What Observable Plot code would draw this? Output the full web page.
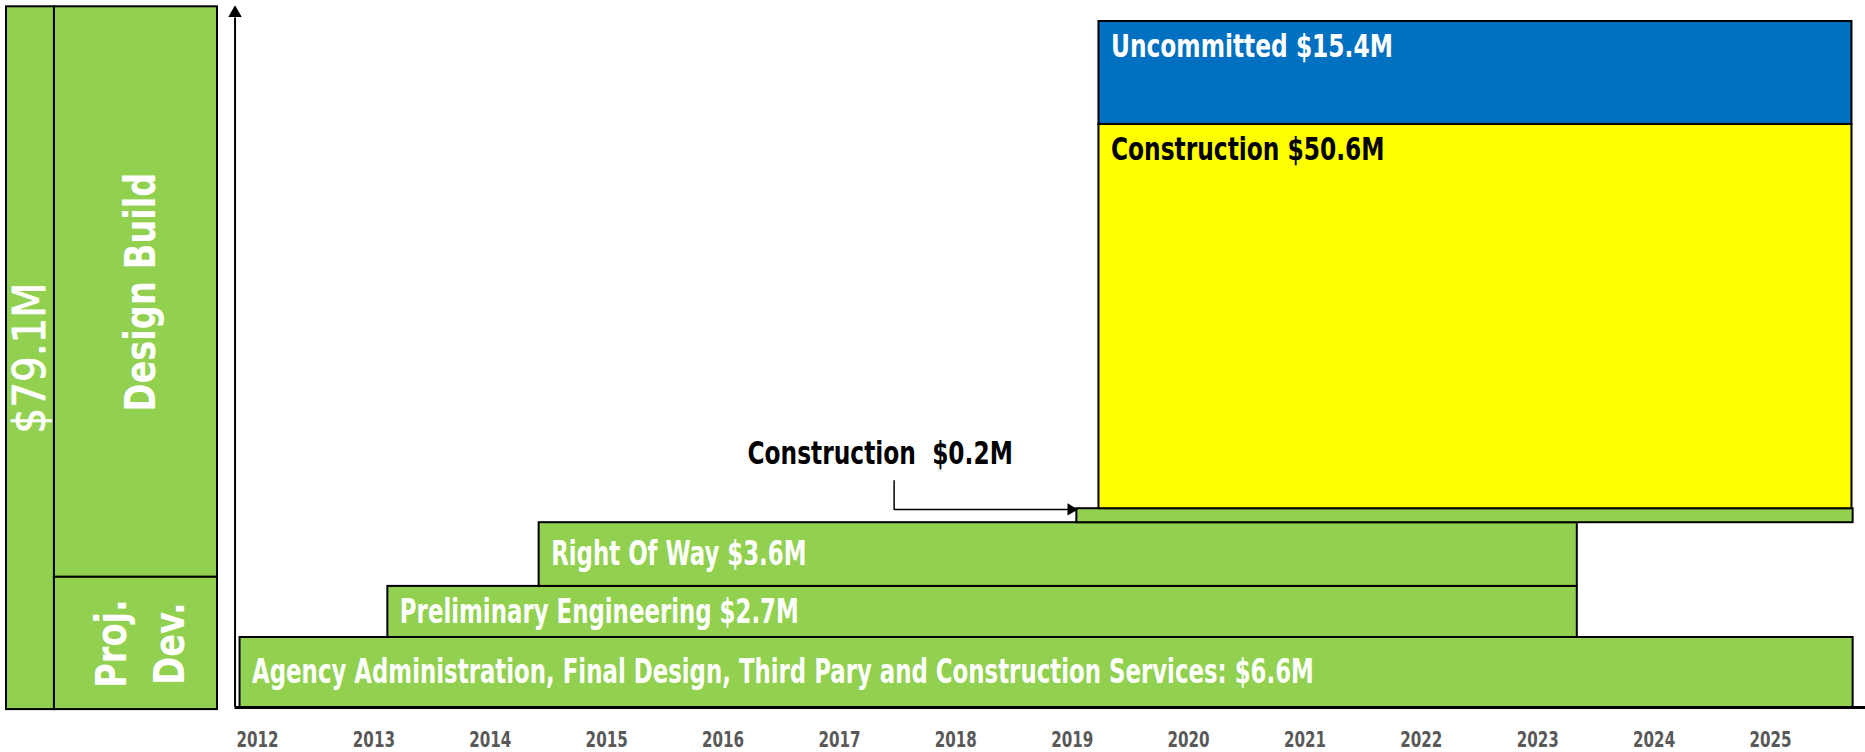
<!DOCTYPE html>
<html><head><meta charset="utf-8">
<script src="https://cdn.jsdelivr.net/npm/d3@7"></script>
<script src="https://cdn.jsdelivr.net/npm/@observablehq/plot@0.6"></script>
<style>
html,body{margin:0;padding:0;background:#fff;}
#wrap{display:flex;width:1865px;height:752px;overflow:hidden;}
#wrap svg{flex:none;}
text{white-space:pre;}
</style></head><body><div id="wrap"></div>
<script>
// ---- data ----
const years = [2012,2013,2014,2015,2016,2017,2018,2019,2020,2021,2022,2023,2024,2025];
const phases = ["Agency", "Preliminary Engineering", "Right Of Way", "Construction (early)", "Construction", "Uncommitted"];
const labels = [
  "Agency Administration, Final Design, Third Pary and Construction Services: $6.6M",
  "Preliminary Engineering $2.7M",
  "Right Of Way $3.6M",
  "Construction\u00a0 $0.2M",
  "Construction $50.6M",
  "Uncommitted $15.4M"
];
const startYear = [2011.85, 2013.12, 2014.42, 2019.04, 2019.23, 2019.23];
const endYear   = [2025.71, 2023.34, 2023.34, 2025.71, 2025.70, 2025.70];
const levelLow  = [0, 10, 17.3, 26.4, 28.4, 83.3];
const levelHigh = [10, 17.3, 26.4, 28.4, 83.3, 98];

const panelNames = ["$79.1M", "Design Build", "Proj.\nDev."];
const panelColStart = [0, 1, 1];
const panelColEnd   = [1, 4.4, 4.4];
const panelLow  = [-0.3, 18.6, -0.3];
const panelHigh = [100.1, 100.1, 18.6];

// annotation for the small construction bar
const noteAt = {x: 2016.21, y: 36.3};
const notePath = [{x: 2017.47, y: 32.4}, {x: 2017.47, y: 28.3}, {x: 2018.99, y: 28.3}];
const axisYear = 2011.807;

// ---- styles ----
const GREEN = "#92D050", YELLOW = "#FFFF00", BLUE = "#0070C0";
const fillOf = {"Construction": YELLOW, "Uncommitted": BLUE};
const FONT = "'Liberation Sans Narrow','Arial Narrow','DejaVu Sans Condensed','DejaVu Sans',sans-serif";

const rows = phases.map((p, i) => ({phase: p, label: labels[i], start: startYear[i], end: endYear[i], lo: levelLow[i], hi: levelHigh[i]}));
const bottomRows = rows.filter(d => ["Agency", "Preliminary Engineering", "Right Of Way"].includes(d.phase));
const topRows = rows.filter(d => ["Construction", "Uncommitted"].includes(d.phase));
const noteRow = rows.find(d => d.phase === "Construction (early)");

const main = Plot.plot({
  width: 1640, height: 752, marginTop: 7, marginBottom: 45, marginLeft: 0, marginRight: 0,
  x: {domain: [2012, 2025], range: [32, 1545]},
  y: {domain: [0, 100], axis: null},
  marks: [
    Plot.rect(rows, {x1: "start", x2: "end", y1: "lo", y2: "hi", fill: d => fillOf[d.phase] || GREEN, stroke: "#000", strokeWidth: 2}),
    Plot.text(bottomRows, {x: "start", y: d => (d.lo + d.hi) / 2, text: "label", textAnchor: "start", dx: 12,
      fill: "white", fontSize: 33, fontWeight: "bold", fontFamily: FONT, className: "condensed-low"}),
    Plot.text(topRows, {x: "start", y: "hi", text: "label", textAnchor: "start", lineAnchor: "top", dx: 12, dy: 13,
      fill: d => d.phase === "Uncommitted" ? "white" : "black", fontSize: 32, fontWeight: "bold", fontFamily: FONT, className: "condensed-high"}),
    Plot.text([noteRow], {x: () => noteAt.x, y: () => noteAt.y, text: "label", textAnchor: "start",
      fill: "black", fontSize: 32, fontWeight: "bold", fontFamily: FONT, className: "condensed-high"}),
    Plot.line(notePath, {x: "x", y: "y", stroke: "#000", strokeWidth: 1.5}),
    Plot.dot([notePath[notePath.length - 1]], {x: "x", y: "y", symbol: "triangle", rotate: 90, r: 4.5, fill: "#000", stroke: "none"}),
    Plot.ruleY([0], {x1: axisYear, x2: 2025.85, stroke: "#000", strokeWidth: 3}),
    Plot.ruleX([axisYear], {y1: 0, y2: 98.5, stroke: "#000", strokeWidth: 2}),
    Plot.dot([{x: axisYear, y: 99.2}], {x: "x", y: "y", symbol: "triangle", r: 5, fill: "#000", stroke: "none"}),
    Plot.axisX(years, {tickSize: 0, tickPadding: 25, fontSize: 21, fontWeight: "bold", fill: "#595959",
      fontFamily: FONT, tickFormat: d => String(d)})
  ]
});

const panels = panelNames.map((n, i) => ({name: n, c0: panelColStart[i], c1: panelColEnd[i], lo: panelLow[i], hi: panelHigh[i]}));
const left = Plot.plot({
  width: 225, height: 752, marginTop: 7, marginBottom: 45, marginLeft: 0, marginRight: 0,
  x: {domain: [0, 4.4], range: [6, 217], axis: null},
  y: {domain: [0, 100], axis: null},
  marks: [
    Plot.rect(panels, {x1: "c0", x2: "c1", y1: "lo", y2: "hi", fill: GREEN, stroke: "#000", strokeWidth: 2}),
    Plot.text(panels.slice(0, 1), {x: d => (d.c0 + d.c1) / 2, y: d => (d.lo + d.hi) / 2, text: "name", rotate: -90,
      fill: "white", fontSize: 45, fontFamily: FONT, stroke: "white", strokeWidth: 0.8}),
    Plot.text(panels.slice(1), {x: d => (d.c0 + d.c1) / 2, y: d => (d.lo + d.hi) / 2, text: "name", rotate: -90,
      fill: "white", fontSize: 43, fontWeight: "bold", lineHeight: 1.35, fontFamily: FONT, className: "condensed-panel"})
  ]
});

const wrap = document.getElementById("wrap");
wrap.appendChild(left);
wrap.appendChild(main);

// narrow the glyphs to mimic the condensed typeface of the original
function condense(root, selector, factor) {
  const nodes = new Set();
  root.querySelectorAll(selector).forEach(n => {
    if (n.tagName.toLowerCase() === "text") nodes.add(n);
    n.querySelectorAll("text").forEach(t => nodes.add(t));
  });
  nodes.forEach(t => {
    const spans = t.querySelectorAll("tspan");
    const targets = spans.length ? Array.from(spans) : [t];
    targets.forEach(el => {
      const w = el.getComputedTextLength();
      if (w > 0) {
        el.setAttribute("textLength", (w * factor).toFixed(1));
        el.setAttribute("lengthAdjust", "spacingAndGlyphs");
      }
    });
  });
}
condense(main, '.condensed-low', 0.77);
condense(main, '.condensed-high', 0.81);
condense(main, 'g[aria-label="x-axis tick label"]', 0.8);
condense(left, '.condensed-panel', 0.87);
</script>
</body></html>
